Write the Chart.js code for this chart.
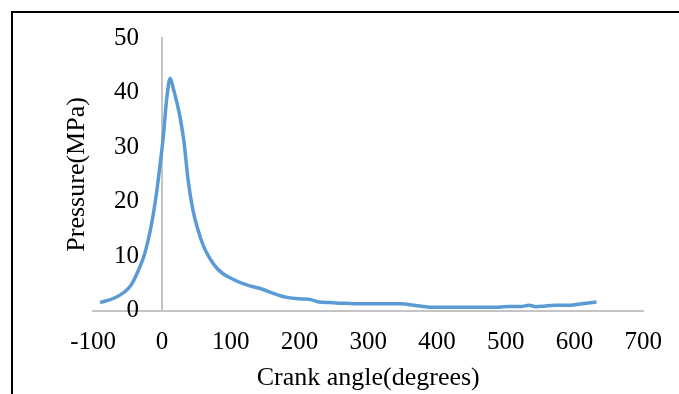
<!DOCTYPE html>
<html>
<head>
<meta charset="utf-8">
<script src="https://cdn.jsdelivr.net/npm/chart.js@4"></script>
<style>
  html, body { margin: 0; padding: 0; background: #fff; overflow: hidden; }
  #frame {
    position: absolute; left: 11px; top: 11px;
    width: 800px; height: 500px;
    border-top: 2px solid #000; border-left: 2px solid #000;
  }
  #wrap { position: absolute; left: 0; top: 0; width: 679px; height: 394px; }
</style>
</head>
<body>
<div id="frame"></div>
<div id="wrap"><canvas id="chart" width="679" height="394"></canvas></div>
<script>
/* ── DATA ── */
const crankAngle = [-90, -70, -55, -45, -35, -25, -15, -8, -3, 2, 7, 12, 17, 22, 27, 32, 38, 45, 52, 60,
  70, 80, 90, 100, 113, 130, 145, 160, 180, 200, 218, 228, 245, 260, 280, 300, 320, 340, 350, 360,
  375, 390, 420, 450, 490, 505, 522, 534, 544, 558, 572, 591, 605, 632];
const pressure = [1.5, 2.3, 3.4, 4.7, 7.2, 10.5, 16, 21.5, 26.5, 32, 39, 42.6, 40.5, 38, 35, 31, 24, 18.5, 15, 12,
  9.5, 7.8, 6.7, 6.0, 5.2, 4.5, 4.0, 3.3, 2.5, 2.2, 2.0, 1.6, 1.5, 1.4, 1.3, 1.3, 1.3, 1.3, 1.3, 1.1,
  0.9, 0.65, 0.65, 0.65, 0.65, 0.8, 0.8, 1.0, 0.75, 0.9, 1.0, 1.0, 1.2, 1.6];

const xTicks = [-100, 0, 100, 200, 300, 400, 500, 600, 700];
const yTicks = [0, 10, 20, 30, 40, 50];

const FONT = "'Liberation Serif', 'Times New Roman', serif";
const AXIS_GREY = '#c4c4c4';

// value axis sits on x = 0, as in the spreadsheet original
const crossAtZero = {
  id: 'crossAtZero',
  afterLayout(chart) {
    const px = chart.scales.x.getPixelForValue(0);
    chart.scales.y.left = px - 80;   // room for the tick labels (they are clipped to the box)
    chart.scales.y.right = px;
  }
};

new Chart(document.getElementById('chart'), {
  type: 'line',
  data: {
    datasets: [{
      label: 'Pressure',
      data: crankAngle.map((a, i) => ({ x: a, y: pressure[i] })),
      borderColor: '#5b9bd5',
      borderWidth: 3.5,
      pointRadius: 0,
      cubicInterpolationMode: 'monotone',
      fill: false
    }]
  },
  options: {
    responsive: false,
    animation: false,
    layout: { padding: { left: 62, right: 30, top: 35, bottom: 0 } },
    plugins: { legend: { display: false }, tooltip: { enabled: false } },
    scales: {
      x: {
        type: 'linear', position: 'bottom',
        min: -100, max: 700,
        afterBuildTicks: s => { s.ticks = xTicks.map(v => ({ value: v })); },
        grid: { display: false, drawTicks: false },
        border: { color: AXIS_GREY, width: 2 },
        ticks: { font: { family: FONT, size: 25 }, color: '#000', padding: 17, maxRotation: 0 },
        title: {
          display: true, text: 'Crank angle(degrees)', color: '#000',
          font: { family: FONT, size: 26 }, padding: { top: -12, bottom: 0 }
        }
      },
      y: {
        type: 'linear', position: 'left',
        min: 0, max: 50,
        afterBuildTicks: s => { s.ticks = yTicks.map(v => ({ value: v })); },
        afterFit: s => { s.width = 0; },
        grid: { display: false, drawTicks: false },
        border: { color: AXIS_GREY, width: 2 },
        ticks: { font: { family: FONT, size: 25 }, color: '#000', padding: 23 },
        title: { display: false }
      },
      yTitle: {
        type: 'linear', axis: 'y', position: 'left',
        grid: { display: false, drawTicks: false },
        border: { display: false },
        ticks: { display: false },
        title: {
          display: true, text: 'Pressure(MPa)', color: '#000',
          font: { family: FONT, size: 26 }, padding: 0
        }
      }
    }
  },
  plugins: [crossAtZero]
});
</script>
</body>
</html>
